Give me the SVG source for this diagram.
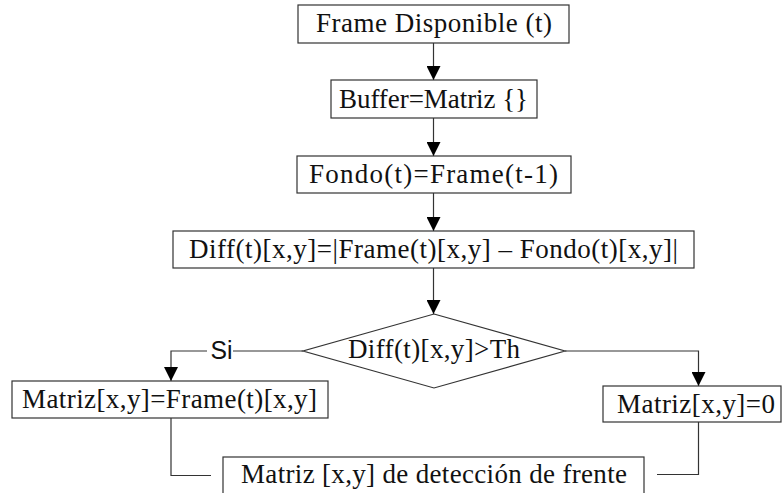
<svg xmlns="http://www.w3.org/2000/svg" width="783" height="493" viewBox="0 0 783 493">
  <style>
    .box { fill: #ffffff; stroke: #333333; stroke-width: 1.2; }
    .lbl { font-family: "Liberation Serif", "Times New Roman", serif; font-size: 27px; fill: #111111; text-anchor: middle; }
    .edge { fill: none; stroke: #333333; stroke-width: 1.2; }
    .tag { font-family: "Liberation Sans", Arial, sans-serif; font-size: 25px; fill: #111111; text-anchor: middle; }
  </style>
  <defs>
    <marker id="arrow" viewBox="0 0 14 14" refX="14" refY="7" markerWidth="14" markerHeight="14" markerUnits="userSpaceOnUse" orient="auto">
      <path d="M0,0 L14,7 L0,14 Z" fill="#000000"/>
    </marker>
  </defs>

  <g id="edges">
    <line class="edge" x1="433.5" y1="43" x2="433.5" y2="80" marker-end="url(#arrow)"/>
    <line class="edge" x1="433.5" y1="118" x2="433.5" y2="156" marker-end="url(#arrow)"/>
    <line class="edge" x1="433.5" y1="193" x2="433.5" y2="231" marker-end="url(#arrow)"/>
    <line class="edge" x1="433.5" y1="268" x2="433.5" y2="314" marker-end="url(#arrow)"/>
    <!-- yes branch -->
    <polyline class="edge" points="303,351 171,351 171,381" marker-end="url(#arrow)"/>
    <rect x="207" y="338" width="26" height="24" fill="#ffffff"/>
    <text class="tag" x="221.5" y="358.5" textLength="22" lengthAdjust="spacingAndGlyphs">Si</text>
    <!-- no branch -->
    <polyline class="edge" points="565,351 698.5,351 698.5,386" marker-end="url(#arrow)"/>
    <!-- merge into result -->
    <polyline class="edge" points="171,418 171,475.5 211,475.5"/>
    <polyline class="edge" points="698.5,422 698.5,474.5 657,474.5"/>
  </g>

  <g id="frame-disponible">
    <rect class="box" x="298" y="5" width="271" height="38"/>
    <text class="lbl" x="434" y="32" textLength="236">Frame Disponible (t)</text>
  </g>

  <g id="buffer">
    <rect class="box" x="331" y="80" width="206" height="38"/>
    <text class="lbl" x="433.5" y="108" textLength="189">Buffer=Matriz {}</text>
  </g>

  <g id="fondo">
    <rect class="box" x="297" y="156" width="274" height="37"/>
    <text class="lbl" x="433.5" y="183" textLength="249">Fondo(t)=Frame(t-1)</text>
  </g>

  <g id="diff">
    <rect class="box" x="173" y="231" width="521" height="37"/>
    <text class="lbl" x="433.5" y="257.5" textLength="489">Diff(t)[x,y]=|Frame(t)[x,y] – Fondo(t)[x,y]|</text>
  </g>

  <g id="umbral">
    <polygon class="box" points="434,314 565,351 434,388 303,351"/>
    <text class="lbl" x="434" y="358" textLength="172">Diff(t)[x,y]&gt;Th</text>
  </g>

  <g id="matriz-frame">
    <rect class="box" x="12" y="381" width="316" height="37"/>
    <text class="lbl" x="169.5" y="408" textLength="295">Matriz[x,y]=Frame(t)[x,y]</text>
  </g>

  <g id="matriz-cero">
    <rect class="box" x="603" y="386" width="178" height="36"/>
    <text class="lbl" x="696" y="412.5" textLength="158">Matriz[x,y]=0</text>
  </g>

  <g id="matriz-frente">
    <rect class="box" x="223" y="457" width="421" height="50"/>
    <text class="lbl" x="434" y="483" textLength="386">Matriz [x,y] de detección de frente</text>
  </g>
</svg>
